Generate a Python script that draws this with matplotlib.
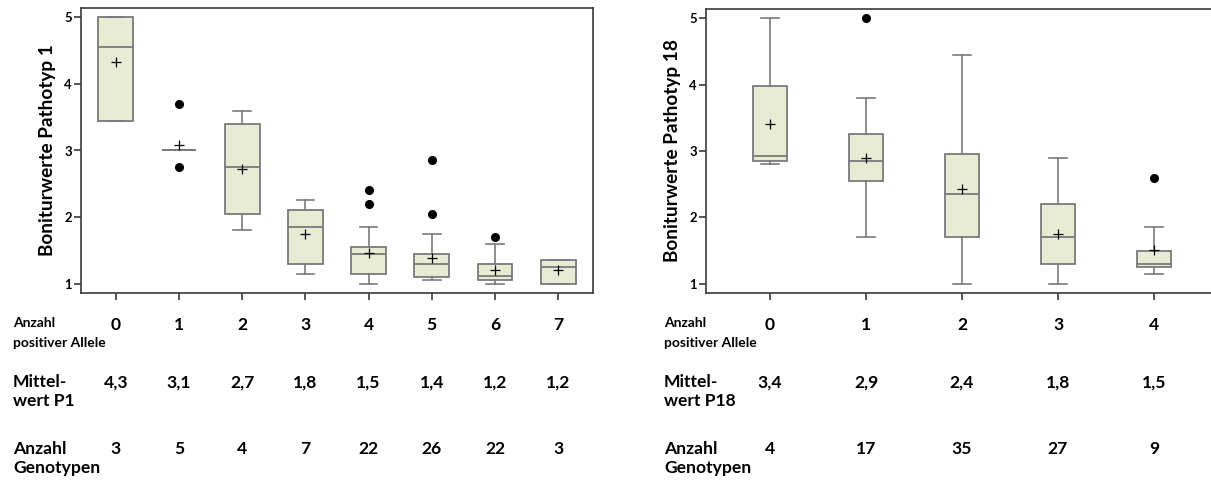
import os
import matplotlib
matplotlib.use("Agg")
import matplotlib.pyplot as plt
import matplotlib.transforms as mtransforms
from matplotlib import font_manager as fm
from matplotlib.font_manager import FontProperties
from matplotlib.text import Text

# pick a humanist sans with a real bold face (Calibri look-alike)
FONT = 'DejaVu Sans'
for cand in ['Lato', 'Open Sans', 'Noto Sans', 'Roboto', 'Liberation Sans']:
    try:
        f = fm.findfont(FontProperties(family=cand, weight='bold'),
                        fallback_to_default=False)
        if 'bold' in os.path.basename(f).lower():
            FONT = cand
            break
    except Exception:
        pass

plt.rcParams['font.family'] = [FONT, 'DejaVu Sans']
plt.rcParams['font.weight'] = 'bold'

# ---------------- data: Pathotyp 1 ----------------
p1_categories = ['0', '1', '2', '3', '4', '5', '6', '7']
p1_q1 = [3.45, 3.0, 2.05, 1.30, 1.15, 1.10, 1.05, 1.00]
p1_med = [4.55, 3.0, 2.75, 1.85, 1.45, 1.30, 1.12, 1.25]
p1_q3 = [5.00, 3.0, 3.40, 2.10, 1.55, 1.45, 1.30, 1.35]
p1_whislo = [3.45, 3.0, 1.80, 1.15, 1.00, 1.05, 1.00, 1.00]
p1_whishi = [5.00, 3.0, 3.60, 2.25, 1.85, 1.75, 1.60, 1.35]
p1_mean = [4.33, 3.09, 2.72, 1.75, 1.46, 1.39, 1.20, 1.20]
p1_fliers = [[], [3.7, 2.75], [], [], [2.2, 2.4], [2.05, 2.85], [1.7], []]
p1_mean_labels = ['4,3', '3,1', '2,7', '1,8', '1,5', '1,4', '1,2', '1,2']
p1_counts = ['3', '5', '4', '7', '22', '26', '22', '3']

# ---------------- data: Pathotyp 18 ----------------
p18_categories = ['0', '1', '2', '3', '4']
p18_q1 = [2.85, 2.55, 1.70, 1.30, 1.25]
p18_med = [2.92, 2.85, 2.35, 1.70, 1.30]
p18_q3 = [3.98, 3.25, 2.95, 2.20, 1.50]
p18_whislo = [2.80, 1.70, 1.00, 1.00, 1.15]
p18_whishi = [5.00, 3.80, 4.45, 2.90, 1.85]
p18_mean = [3.41, 2.90, 2.43, 1.75, 1.51]
p18_fliers = [[], [5.0], [], [], [2.6]]
p18_mean_labels = ['3,4', '2,9', '2,4', '1,8', '1,5']
p18_counts = ['4', '17', '35', '27', '9']

W, H = 1211, 482
fig = plt.figure(figsize=(W / 100, H / 100), dpi=100)
renderer = fig.canvas.get_renderer()


def fit_size(s, target_px):
    t = Text(0, 0, s, fontsize=10, fontweight='bold', fontfamily=[FONT, 'DejaVu Sans'])
    t.set_figure(fig)
    w = t.get_window_extent(renderer).width
    return 10 * target_px / w


YLAB_SIZE = fit_size('Boniturwerte Pathotyp 1', 212)
BIG = fit_size('Genotypen', 87)
SMALL = fit_size('positiver Allele', 93)
YTICK = BIG * 0.75

BOX_FACE = '#E8ECD5'
EDGE = '#7A7A7A'
SPINE = '#3A3A3A'


def px_box(l, t, r, b):
    return [l / W, 1 - b / H, (r - l) / W, (b - t) / H]


def draw_panel(ax, cats, q1, med, q3, wlo, whi, mean, fliers, widths, ylabel):
    stats = []
    for i in range(len(cats)):
        stats.append(dict(q1=q1[i], med=med[i], q3=q3[i], whislo=wlo[i],
                          whishi=whi[i], mean=mean[i], fliers=fliers[i],
                          label=cats[i]))
    ax.bxp(stats, positions=list(range(len(cats))), widths=widths,
           patch_artist=True, showmeans=True, showfliers=True,
           boxprops=dict(facecolor=BOX_FACE, edgecolor=EDGE, linewidth=1.3),
           medianprops=dict(color=EDGE, linewidth=1.3),
           whiskerprops=dict(color=EDGE, linewidth=1.2),
           capprops=dict(color=EDGE, linewidth=1.2),
           capwidths=widths / 2,
           meanprops=dict(marker='+', markeredgecolor='black',
                          markerfacecolor='black', markersize=7,
                          markeredgewidth=0.9),
           flierprops=dict(marker='o', markerfacecolor='black',
                           markeredgecolor='black', markersize=5.5))
    ax.set_ylim(0.86, 5.14)
    ax.set_yticks([1, 2, 3, 4, 5])
    ax.set_xticks(list(range(len(cats))), labels=cats)
    ax.tick_params(axis='x', length=5, width=1.2, color=SPINE, pad=12,
                   labelsize=BIG)
    ax.tick_params(axis='y', length=5, width=1.2, color=SPINE, pad=1.5,
                   labelsize=YTICK)
    for lab in ax.get_xticklabels() + ax.get_yticklabels():
        lab.set_fontweight('bold')
    for s in ax.spines.values():
        s.set_color(SPINE)
        s.set_linewidth(1.2)
    ax.set_ylabel(ylabel, fontsize=YLAB_SIZE, fontweight='bold', labelpad=6)


# Left panel
ax1 = fig.add_axes(px_box(81, 8, 593, 293))
ax1.set_xlim(-0.55, len(p1_categories) - 1 + 0.55)
draw_panel(ax1, p1_categories, p1_q1, p1_med, p1_q3, p1_whislo, p1_whishi,
           p1_mean, p1_fliers, 0.55, 'Boniturwerte Pathotyp 1')

# Right panel (its right border lies just outside the picture)
ax2 = fig.add_axes(px_box(706, 9, 1218, 293))
ax2.set_xlim(-0.667, len(p18_categories) - 1 + 0.667)
draw_panel(ax2, p18_categories, p18_q1, p18_med, p18_q3, p18_whislo,
           p18_whishi, p18_mean, p18_fliers, 0.357, 'Boniturwerte Pathotyp 18')


def fy(py):
    return 1 - py / H


def table(ax, x_label_px, mean_labels, counts, wert_label):
    tr = mtransforms.blended_transform_factory(ax.transData, fig.transFigure)
    kw = dict(fontweight='bold', va='baseline', ha='left')
    fig.text(x_label_px / W, fy(326.7), 'Anzahl', fontsize=SMALL, **kw)
    fig.text(x_label_px / W, fy(346.7), 'positiver Allele', fontsize=SMALL, **kw)
    fig.text(x_label_px / W, fy(387.3), 'Mittel-', fontsize=BIG, **kw)
    fig.text(x_label_px / W, fy(406), wert_label, fontsize=BIG, **kw)
    fig.text(x_label_px / W, fy(454), 'Anzahl', fontsize=BIG, **kw)
    fig.text(x_label_px / W, fy(473.5), 'Genotypen', fontsize=BIG, **kw)
    for i, (m, c) in enumerate(zip(mean_labels, counts)):
        ax.text(i, fy(387.3), m, transform=tr, fontsize=BIG,
                fontweight='bold', ha='center', va='baseline')
        ax.text(i, fy(454), c, transform=tr, fontsize=BIG,
                fontweight='bold', ha='center', va='baseline')


table(ax1, 13, p1_mean_labels, p1_counts, 'wert P1')
table(ax2, 664, p18_mean_labels, p18_counts, 'wert P18')

fig.savefig('out.png', dpi=100)
